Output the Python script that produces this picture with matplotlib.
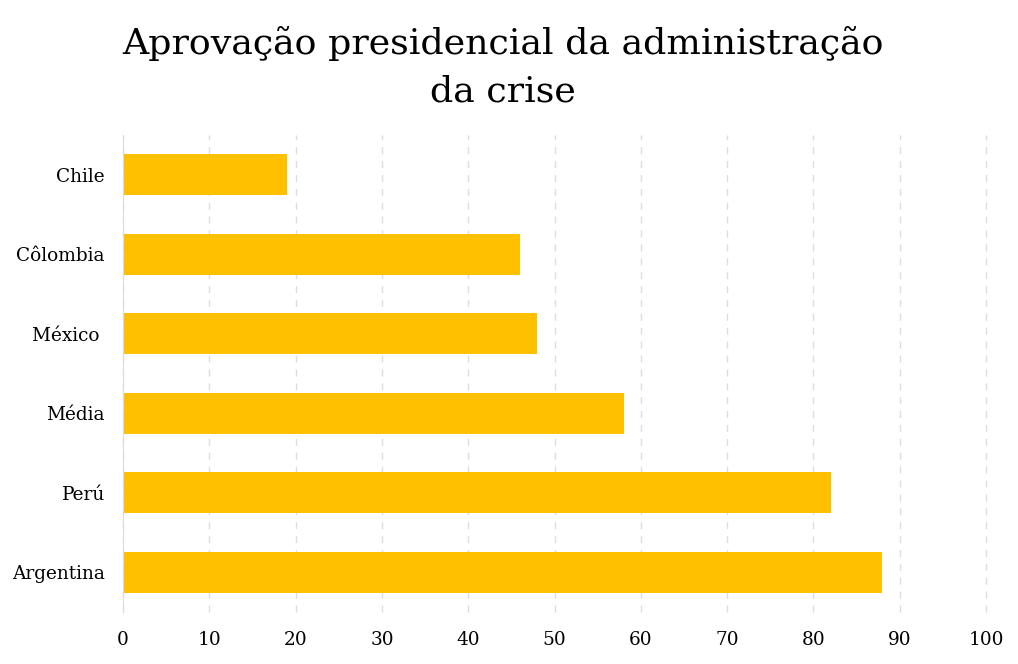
import matplotlib
matplotlib.use("Agg")
import matplotlib.pyplot as plt

# dados
paises = ["Chile", "Côlombia", "México ", "Média", "Perú", "Argentina"]
aprovacao = [19, 46, 48, 58, 82, 88]
xticks = [0, 10, 20, 30, 40, 50, 60, 70, 80, 90, 100]

plt.rcParams["font.family"] = ["DejaVu Serif"]

fig = plt.figure(figsize=(10.18, 6.64), dpi=100)
ax = fig.add_axes([0.1208, 0.0783, 0.8478, 0.7184])

pos = list(range(len(paises)))
ax.barh(pos, aprovacao, height=0.52, color="#FFC000", zorder=2)
ax.set_yticks(pos)
ax.set_yticklabels(paises)
ax.set_ylim(len(paises) - 0.5, -0.5)
ax.set_xlim(0, 100)
ax.set_xticks(xticks)

ax.grid(axis="x", color="#dddddd", linestyle=(0, (5, 5)), linewidth=1, zorder=0)
for gl in ax.get_xgridlines():
    gl.set_clip_on(False)
for s in ["top", "right", "bottom"]:
    ax.spines[s].set_visible(False)
ax.spines["left"].set_color("#dddddd")
ax.tick_params(axis="both", length=0, labelsize=13.3, colors="black")
ax.tick_params(axis="y", pad=13)
ax.tick_params(axis="x", pad=14)

fig.text(0.494, 0.899, "Aprovação presidencial da administração\nda crise",
         ha="center", va="center", fontsize=26.2, linespacing=1.5)

fig.savefig("out.png", dpi=100)
